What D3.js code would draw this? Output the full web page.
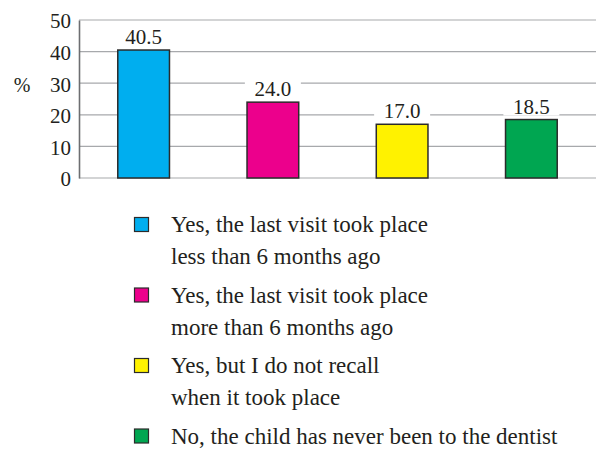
<!DOCTYPE html>
<html>
<head>
<meta charset="utf-8">
<script src="https://cdn.jsdelivr.net/npm/d3@7"></script>
<style>
  html, body { margin: 0; padding: 0; background: #fff; }
  svg { display: block; }
  text { font-family: "Liberation Serif", "DejaVu Serif", serif; fill: #231f20; }
</style>
</head>
<body>
<svg id="chart" width="599" height="449"></svg>
<script>
// ---- data ----
const categories = [
  "Yes, the last visit took place less than 6 months ago",
  "Yes, the last visit took place more than 6 months ago",
  "Yes, but I do not recall when it took place",
  "No, the child has never been to the dentist"
];
const values = [40.5, 24.0, 17.0, 18.5];
const legendLines = [
  ["Yes, the last visit took place", "less than 6 months ago"],
  ["Yes, the last visit took place", "more than 6 months ago"],
  ["Yes, but I do not recall", "when it took place"],
  ["No, the child has never been to the dentist"]
];
const yTicks = [0, 10, 20, 30, 40, 50];
const yLabel = "%";

// ---- styles ----
const colors = ["#00aeef", "#ec008c", "#fff200", "#00a651"];

const svg = d3.select("#chart");
const mLeft = 79, mRight = 596, mTop = 20, mBottom = 178;

const x = d3.scaleBand().domain(categories).range([mLeft, mRight])
  .paddingInner(0.6).paddingOuter(0.3);
const y = d3.scaleLinear().domain([0, 50]).range([mBottom, mTop]);

// gridlines
svg.append("g").selectAll("line").data(yTicks).join("line")
  .attr("x1", mLeft).attr("x2", mRight)
  .attr("y1", d => y(d)).attr("y2", d => y(d))
  .attr("stroke", "#a7a9ac").attr("stroke-width", 1.2);

// y axis
const yAxis = d3.axisLeft(y).tickValues(yTicks).tickSize(0).tickPadding(8)
  .tickFormat(d3.format("d"));
const gy = svg.append("g").attr("transform", `translate(${mLeft},0)`).call(yAxis);
gy.select(".domain").attr("stroke", "#6d6e71").attr("stroke-width", 1.6);
gy.selectAll("text").attr("font-size", 21)
  .attr("font-family", "Liberation Serif").attr("fill", "#231f20").attr("dy", "0.38em");

svg.append("text").attr("x", 22).attr("y", 92).attr("text-anchor", "middle")
  .attr("font-size", 20).text(yLabel);

// value labels with white backgrounds
const lbl = svg.append("g").selectAll("g").data(values).join("g");
lbl.append("rect")
  .attr("x", (d, i) => x(categories[i]) + x.bandwidth() / 2 - 28)
  .attr("y", d => y(d) - 24)
  .attr("width", 56).attr("height", 20)
  .attr("fill", "#fff");
lbl.append("text")
  .attr("x", (d, i) => x(categories[i]) + x.bandwidth() / 2)
  .attr("y", d => y(d) - 6)
  .attr("text-anchor", "middle")
  .attr("font-size", 21)
  .text(d => d3.format(".1f")(d));

// bars
svg.append("g").selectAll("rect").data(values).join("rect")
  .attr("x", (d, i) => x(categories[i]))
  .attr("y", d => y(d))
  .attr("width", x.bandwidth())
  .attr("height", d => y(0) - y(d))
  .attr("fill", (d, i) => colors[i])
  .attr("stroke", "#2b2b2b").attr("stroke-width", 1.5);

// legend
const lg = svg.append("g").selectAll("g").data(legendLines).join("g")
  .attr("transform", (d, i) => `translate(0,${232 + i * 70.5})`);
lg.append("rect")
  .attr("x", 134.5).attr("y", -14.5).attr("width", 14).attr("height", 14)
  .attr("fill", (d, i) => colors[i])
  .attr("stroke", "#2b2b2b").attr("stroke-width", 1.2);
lg.each(function(lines) {
  const g = d3.select(this);
  lines.forEach((t, j) => {
    g.append("text").attr("x", 171).attr("y", j * 32)
      .attr("font-size", 23).text(t);
  });
});
</script>
</body>
</html>
